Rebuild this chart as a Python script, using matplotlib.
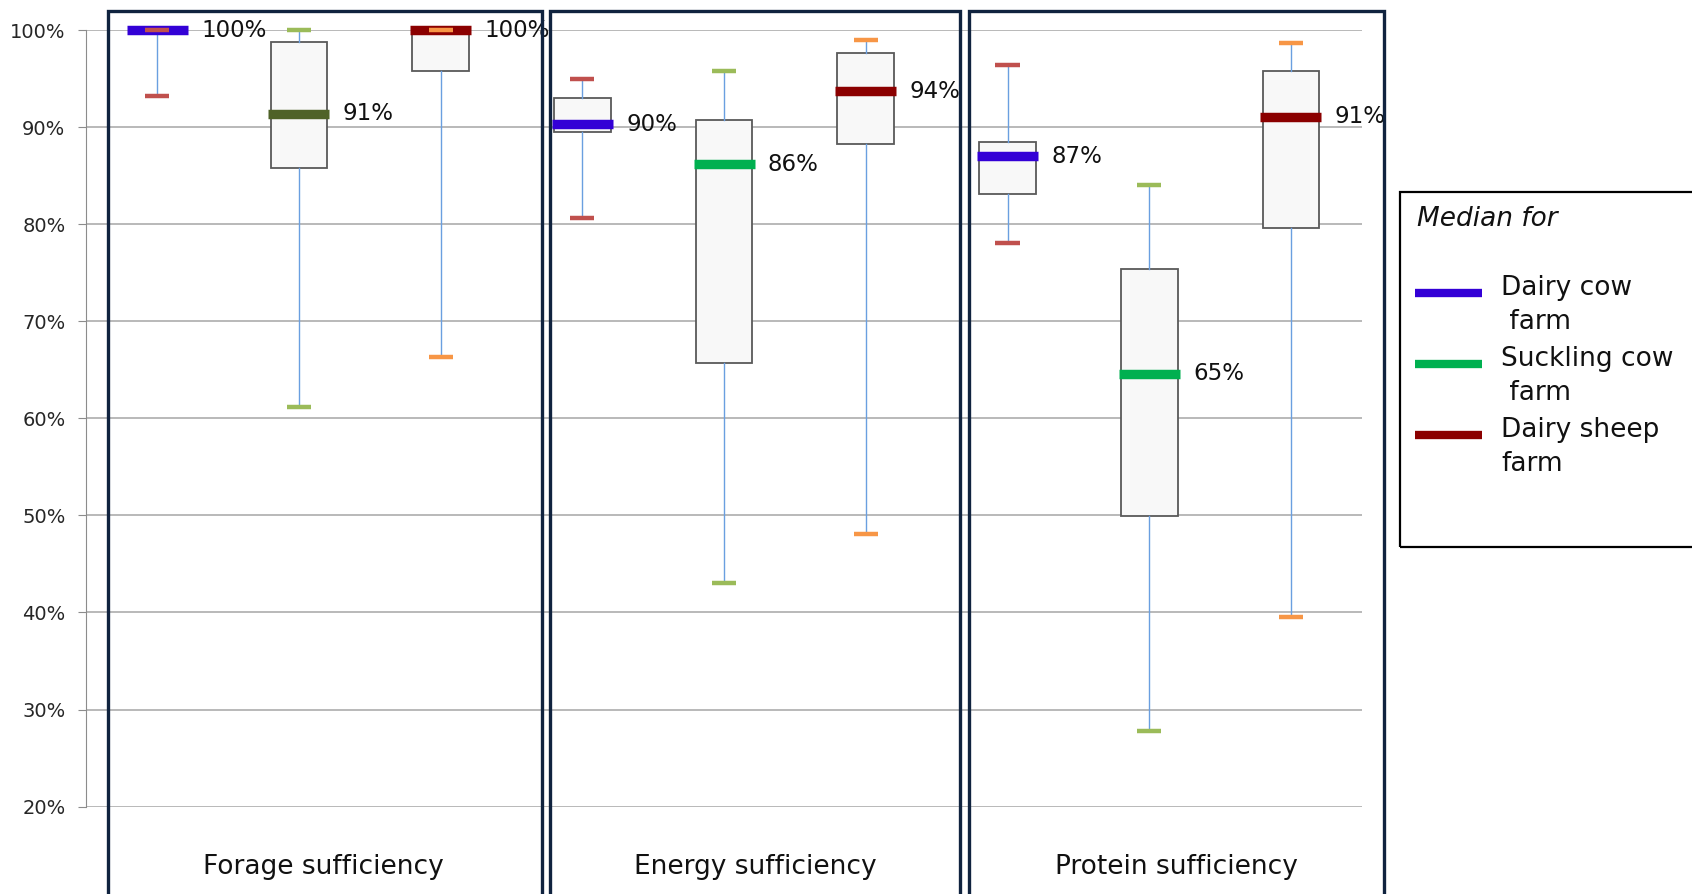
import matplotlib
matplotlib.use('Agg')
import matplotlib.pyplot as plt
from matplotlib.patches import Rectangle
from matplotlib.lines import Line2D
from matplotlib.ticker import PercentFormatter

# categories and farms
categories = ['Forage sufficiency', 'Energy sufficiency', 'Protein sufficiency']
farms = ['Dairy cow\n farm', 'Suckling cow\n farm', 'Dairy sheep\nfarm']

# box stats, order: forage (cow, suckling, sheep), energy (...), protein (...)
lower = [93.2, 61.2, 66.3, 80.6, 43.0, 48.1, 78.1, 27.8, 39.5]
q1 = [100.0, 85.8, 95.8, 89.5, 65.7, 88.3, 83.1, 49.9, 79.6]
median = [100.0, 91.4, 100.0, 90.3, 86.2, 93.7, 87.0, 64.6, 91.1]
q3 = [100.0, 98.8, 100.0, 93.0, 90.8, 97.7, 88.5, 75.4, 95.8]
upper = [100.0, 100.0, 100.0, 95.0, 95.8, 99.0, 96.4, 84.0, 98.7]
median_labels = ['100%', '91%', '100%', '90%', '86%', '94%', '87%', '65%', '91%']

median_colors = ['#3300D6', '#4F6228', '#8B0000',
                 '#3300D6', '#00B050', '#8B0000',
                 '#3300D6', '#00B050', '#8B0000']
cap_colors = ['#C0504D', '#9BBB59', '#F79646'] * 3
legend_colors = ['#3300D6', '#00B050', '#8B0000']

fig = plt.figure(figsize=(16.92, 8.94), dpi=100)
W, H = 1568.0, 828.0


def fx(x):
    return x / W


def fy(y):
    return 1 - y / H


ax = fig.add_axes([fx(80), fy(747), fx(1262) - fx(80), fy(28) - fy(747)])

stats = []
for i in range(len(median)):
    stats.append({'whislo': lower[i], 'q1': q1[i], 'med': median[i],
                  'q3': q3[i], 'whishi': upper[i], 'fliers': []})
positions = list(range(1, len(median) + 1))

bp = ax.bxp(stats, positions=positions, widths=0.4, capwidths=0.17,
            patch_artist=True, showfliers=False,
            boxprops=dict(facecolor='#F8F8F8', edgecolor='#595959', linewidth=1.3),
            whiskerprops=dict(color='#6A9FE0', linewidth=1.0),
            medianprops=dict(linewidth=0))
for i, cap in enumerate(bp['caps']):
    cap.set_color(cap_colors[i // 2])
    cap.set_linewidth(3.2)
    cap.set_solid_capstyle('butt')
    cap.set_zorder(5)
    cap.set_clip_on(False)

for i, p in enumerate(positions):
    ax.hlines(median[i], p - 0.215, p + 0.215, colors=median_colors[i],
              linewidth=6.8, zorder=4, clip_on=False)
    ax.text(p + 0.31, median[i], median_labels[i], va='center', ha='left',
            fontsize=16.5, color='#111111', zorder=6)
# keep the top caps visible over the median bars
for i in range(len(median)):
    bp['caps'][2 * i + 1].set_zorder(6)

ax.set_xlim(0.5, 9.5)
ax.set_ylim(20, 100)
ax.set_yticks(range(20, 101, 10))
ax.yaxis.set_major_formatter(PercentFormatter(decimals=0))
ax.set_xticks([])
ax.grid(axis='y', color='#A6A6A6', linewidth=1.1)
ax.set_axisbelow(True)
for s in ['top', 'right', 'bottom']:
    ax.spines[s].set_visible(False)
ax.spines['left'].set_color('#8C8C8C')
ax.tick_params(axis='y', direction='out', length=6, color='#8C8C8C',
               labelsize=14, labelcolor='#262626', pad=9)

# panel frames
panels = [(100, 502), (510, 890), (898, 1283)]
for (x0, x1) in panels:
    fig.add_artist(Rectangle((fx(x0), -0.05), fx(x1) - fx(x0), fy(10) + 0.05,
                             transform=fig.transFigure, fill=False,
                             edgecolor='#10233F', linewidth=2.4, clip_on=False))
label_x = [300, 700, 1090]
for name, x in zip(categories, label_x):
    fig.text(fx(x), fy(803), name, ha='center', va='center', fontsize=19,
             color='#111111')

# legend box
fig.add_artist(Rectangle((fx(1297), fy(507)), 0.3, fy(178) - fy(507),
                         transform=fig.transFigure, fill=False,
                         edgecolor='black', linewidth=1.6, clip_on=False))
fig.text(fx(1313), fy(203), 'Median for', style='italic', fontsize=19,
         ha='left', va='center', color='#111111')
line_y = [271, 337, 403]
text_top = [255, 320, 386]
for name, c, ly, ty in zip(farms, legend_colors, line_y, text_top):
    fig.add_artist(Line2D([fx(1311), fx(1373)], [fy(ly), fy(ly)], color=c,
                          linewidth=6, solid_capstyle='butt',
                          transform=fig.transFigure))
    fig.text(fx(1391), fy(ty), name, ha='left', va='top', fontsize=19,
             linespacing=1.4, color='#111111')

plt.savefig('out.png', dpi=100)
